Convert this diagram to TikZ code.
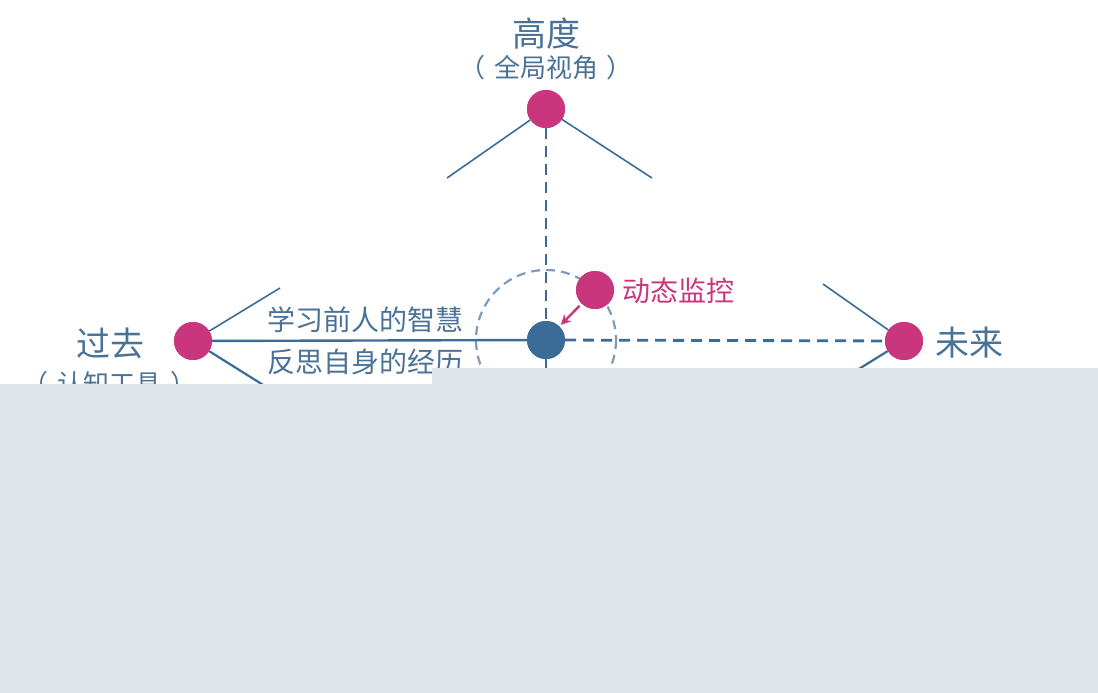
\documentclass[tikz,border=0pt]{standalone}
\usepackage{fontspec}
\usepackage{tikz}
\usetikzlibrary{arrows.meta}
\newfontfamily\cjk{Noto Sans CJK SC}
\definecolor{lineblue}{HTML}{3B6C98}
\definecolor{txtblue}{HTML}{4A7196}
\definecolor{ringblue}{HTML}{7D9AB8}
\definecolor{dotpink}{HTML}{C9367D}
\definecolor{veil}{HTML}{DFE5EB}

\begin{document}
\begin{tikzpicture}[x=1pt, y=-1pt,
        vertex/.style={circle, fill=dotpink, minimum size=38pt, inner sep=0pt},
        hub/.style={vertex, fill=lineblue},
        big/.style={font=\cjk\fontsize{34}{36}\selectfont, text=txtblue},
        small/.style={font=\cjk\fontsize{26}{28}\selectfont, text=txtblue},
        lbl/.style={font=\cjk\fontsize{28}{30}\selectfont, text=txtblue},
        branch/.style={draw=lineblue, line width=1.6pt},
        dashline/.style={draw=lineblue, line width=2.8pt, dash pattern=on 11pt off 7pt}
    ]
        \useasboundingbox (0,0) rectangle (1098,693);

        \node[hub] (c) at (546, 340) {};
        \node[vertex] (g) at (546, 109) {};
        \node[vertex] (p) at (193, 341) {};
        \node[vertex] (f) at (904, 341) {};
        \node[vertex] (dm) at (595, 290) {};

        \coordinate (gl) at (447, 178);
        \coordinate (gr) at (652, 178);
        \coordinate (pu) at (280, 288);
        \coordinate (pd) at (268, 388);
        \coordinate (fu) at (823, 284);
        \coordinate (fd) at (854, 372);
        \coordinate (down) at (546, 420);

        % ring round the hub
        \draw[ringblue, line width=2.2pt, dash pattern=on 9pt off 6pt] (c) circle (70);

        % dashed axes
        \draw[dashline] (g) -- (c);
        \draw[dashline] (c) -- (down);
        \draw[dashline] (c) -- (f);

        % branches
        \draw[branch] (g) -- (gl);
        \draw[branch] (g) -- (gr);
        \draw[branch, line width=2.4pt] (p) -- (c);
        \draw[branch] (p) -- (pu);
        \draw[branch, line width=2.2pt] (p) -- (pd);
        \draw[branch] (f) -- (fu);
        \draw[branch, line width=2.2pt] (f) -- (fd);

        \draw[dotpink, line width=2.4pt, -{Stealth[length=10pt, width=10pt]},
            shorten <=3pt, shorten >=2pt] (dm) -- (c);

        \node[vertex] at (g) {};
        \node[vertex] at (p) {};
        \node[vertex] at (f) {};
        \node[vertex] at (dm) {};
        \node[hub] at (c) {};

        % texts
        \node[big] (gt) at (546, 33) {高度};
        \node[small] (gs) at (546, 68) {（\hspace{9pt}全局视角\hspace{9pt}）};
        \node[big] (pt) at (110, 343) {过去};
        \node[small] (ps) at (110, 384) {（\hspace{9pt}认知工具\hspace{9pt}）};
        \node[big] (ft) at (969, 343) {未来};
        \node[lbl] (l1) at (365, 320) {学习前人的智慧};
        \node[lbl] (l2) at (365, 362) {反思自身的经历};
        \node[lbl, text=dotpink, anchor=west] (dt) at (619, 291) {动态监控};

        % grey veil over the lower part
        \fill[veil] (0, 384) rectangle (432, 693);
        \fill[veil] (432, 368) rectangle (1098, 693);
    \end{tikzpicture}
\end{document}
